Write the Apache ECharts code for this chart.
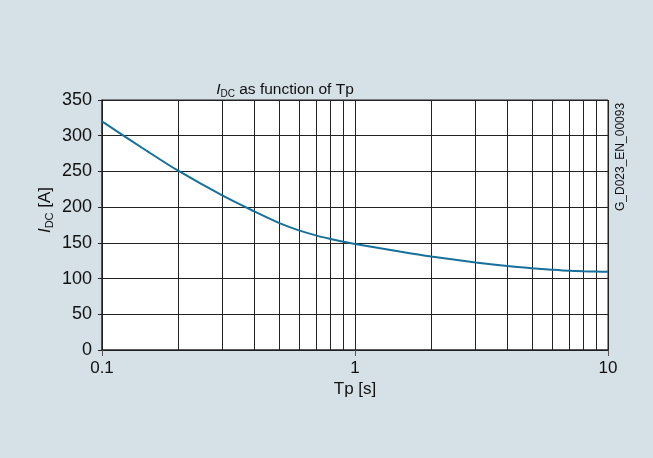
<!DOCTYPE html>
<html>
<head>
<meta charset="utf-8">
<script src="https://cdn.jsdelivr.net/npm/echarts@6/dist/echarts.min.js"></script>
<style>
html,body{margin:0;padding:0;background:#d5e0e7;}
#c{width:653px;height:458px;}
</style>
</head>
<body>
<div id="c"></div>
<script>
// Data
const tp = [0.1, 0.15, 0.2, 0.3, 0.4, 0.5, 0.6, 0.7, 0.8, 0.9, 1, 1.5, 2, 3, 4, 5, 6, 7, 8, 9, 10];
const idc = [320, 279, 251, 216, 194, 178, 167.5, 160.5, 155.5, 151.5, 148.5, 138, 131, 122.5, 117.5, 114.5, 112.5, 111, 110.2, 109.8, 109.5];
const minorGridX = [0.2, 0.3, 0.4, 0.5, 0.6, 0.7, 0.8, 0.9, 2, 3, 4, 5, 6, 7, 8, 9];
const yTicks = [0, 50, 100, 150, 200, 250, 300, 350];
const titleText = 'as function of Tp';
const watermark = 'G_D023_EN_00093';

const font = '"Liberation Sans", Arial, sans-serif';
const gridColor = '#222';
const txt = '#111';

const chart = echarts.init(document.getElementById('c'), null, {renderer: 'canvas'});
chart.setOption({
  backgroundColor: '#d5e0e7',
  animation: false,
  title: {
    text: '{i|I}{s|DC}{n| ' + titleText + '}',
    left: 280, top: 75, textAlign: 'center',
    textStyle: {
      fontWeight: 'normal',
      rich: {
        i: {fontFamily: font, fontSize: 15.5, fontStyle: 'italic', fontWeight: 'normal', color: txt},
        s: {fontFamily: font, fontSize: 10, fontWeight: 'normal', color: txt, padding: [9, 0, 0, 0]},
        n: {fontFamily: font, fontSize: 15.5, fontWeight: 'normal', color: txt}
      }
    }
  },
  grid: {left: 102, right: 45, top: 100, bottom: 108, show: true, backgroundColor: '#ffffff', borderWidth: 0},
  xAxis: {
    type: 'log', logBase: 10, min: 0.1, max: 10,
    name: 'Tp [s]', nameLocation: 'middle', nameGap: 31, nameMoveOverlap: false,
    nameTextStyle: {fontFamily: font, fontSize: 17, color: txt},
    axisLine: {show: true, onZero: false, lineStyle: {color: gridColor, width: 1.5}},
    axisTick: {show: true, length: 6, lineStyle: {color: '#555'}},
    axisLabel: {fontFamily: font, fontSize: 17, color: txt, margin: 10,
      formatter: v => (Math.abs(v - 0.1) < 1e-9 ? '0.1' : String(Math.round(v)))},
    splitLine: {show: true, lineStyle: {color: gridColor, width: 1}}
  },
  yAxis: {
    type: 'value', min: 0, max: 350, interval: 50,
    name: '{i|I}{s|DC}{n| [A]}', nameLocation: 'middle', nameGap: 47, nameRotate: 90, nameMoveOverlap: false,
    nameTextStyle: {
      padding: [0, 0, 0, 30],
      rich: {
        i: {fontFamily: font, fontSize: 17, fontStyle: 'italic', color: txt},
        s: {fontFamily: font, fontSize: 11, color: txt, padding: [9, 0, 0, 0]},
        n: {fontFamily: font, fontSize: 17, color: txt}
      }
    },
    axisLine: {show: true, lineStyle: {color: gridColor, width: 1.5}},
    axisTick: {show: true, length: 4, lineStyle: {color: gridColor}},
    axisLabel: {fontFamily: font, fontSize: 18, color: txt, margin: 10},
    splitLine: {show: true, lineStyle: {color: gridColor, width: 1}}
  },
  graphic: [{
    type: 'text', x: 621, y: 211,
    rotation: Math.PI / 2,
    style: {text: watermark, fontFamily: font, fontSize: 12, fill: txt, textAlign: 'left', textVerticalAlign: 'middle'}
  }, {
    type: 'rect', shape: {x: 607.5, y: 100, width: 1.2, height: 250}, style: {fill: gridColor}, silent: true
  }, {
    type: 'rect', shape: {x: 102, y: 99.5, width: 506, height: 1.2}, style: {fill: gridColor}, silent: true
  }],
  series: [{
    type: 'line',
    data: tp.map((x, i) => [x, idc[i]]),
    smooth: 0.3,
    showSymbol: false,
    lineStyle: {color: '#16709a', width: 2},
    markLine: {
      silent: true, symbol: 'none', animation: false,
      label: {show: false},
      lineStyle: {color: gridColor, width: 1, type: 'solid'},
      data: minorGridX.map(v => ({xAxis: v}))
    },
    z: 5
  }]
});
</script>
</body>
</html>
